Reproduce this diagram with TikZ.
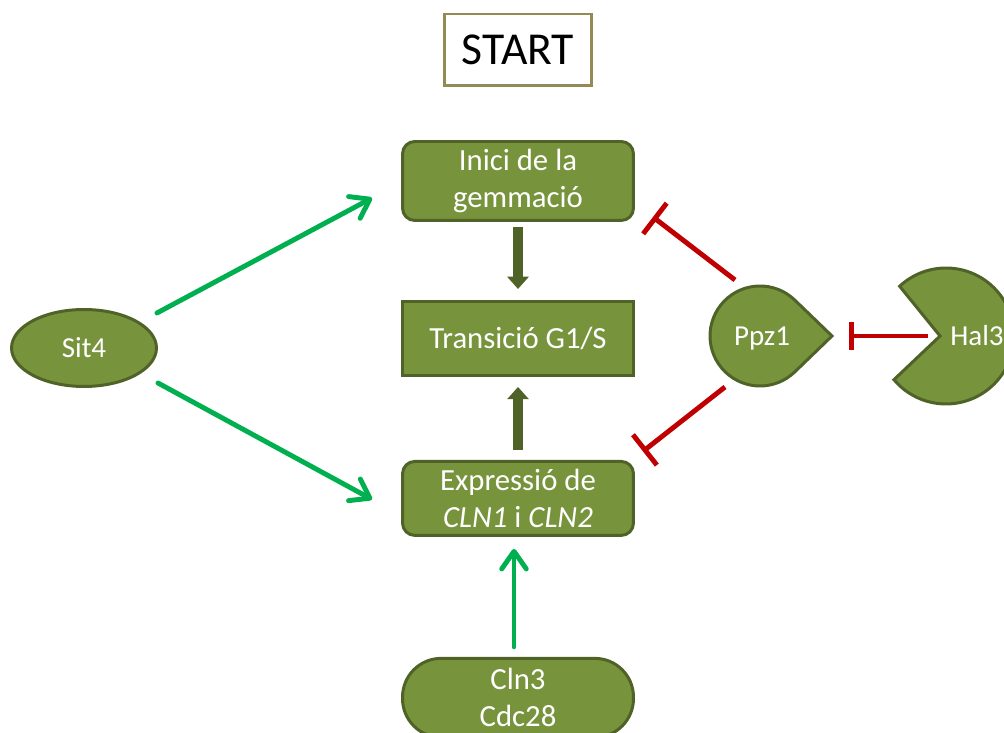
\documentclass[tikz,border=0pt]{standalone}
\usepackage{fontspec}
\setmainfont{Carlito}
\usepackage{xcolor}
\definecolor{cLeaf}{HTML}{77933C}
\definecolor{cDark}{HTML}{4F6228}
\definecolor{cGo}{HTML}{00B050}
\definecolor{cStop}{HTML}{C00000}
\definecolor{cFrame}{HTML}{948A54}
\usepackage{tikz}
\usetikzlibrary{positioning,arrows.meta,calc,shapes.geometric}
\tikzset{
  node-box/.style={draw=cDark,line width=1.7pt,fill=cLeaf,text=white,
    minimum width=4.62cm,minimum height=1.48cm,align=center,
    font=\fontsize{17.5}{21}\selectfont},
  node-round/.style={rounded corners=7pt},
  node-pill/.style={rounded corners=22pt,minimum height=1.58cm},
  node-oval/.style={draw=cDark,line width=1.7pt,fill=cLeaf,text=white,ellipse,
    minimum width=2.9cm,minimum height=1.54cm,font=\fontsize{16.5}{20}\selectfont},
  node-label/.style={text=white,font=\fontsize{16.5}{20}\selectfont},
  node-title/.style={draw=cFrame,line width=1.7pt,fill=white,
    minimum width=2.96cm,minimum height=1.44cm,font=\fontsize{26}{31}\selectfont},
  shape-fill/.style={draw=cDark,line width=1.7pt,fill=cLeaf},
  % activacio (verd), pas principal (oliva), inhibicio (vermell)
  arrow-act/.style={-{Straight Barb[length=10pt,width=14pt,round]},line width=2.8pt,
    draw=cGo,line cap=round},
  arrow-main/.style={-{Triangle[length=7pt,width=12pt]},line width=5.5pt,draw=cDark},
  arrow-inhib/.style={-{Bar[width=#1]},line width=2.8pt,draw=cStop},
}
\begin{document}
\begin{tikzpicture}[x=0.02cm,y=0.02cm]
  \clip (0,0) rectangle (1004,733);
  \coordinate (ppzc) at (760,397);
  \coordinate (halc) at (946,397);
  % formes de Ppz1 i Hal3
  \draw[shape-fill] ($(ppzc)+(72,0)$) -- ($(ppzc)+(46:50)$)
    arc[start angle=46,end angle=314,radius=50] -- cycle;
  \draw[shape-fill] ($(halc)+(-6,0)$) -- ($(halc)+(133:68)$)
    arc[start angle=133,end angle=-140,radius=68] -- cycle;

  \node[node-title] (start) at (518,683) {START};
  \node[node-box,node-round,minimum height=1.58cm] (inici) at (518,552) {Inici de la\\gemmació};
  \node[node-box,below=1.56cm of inici] (trans) {Transició G1/S};
  \node[node-box,node-round,below=1.66cm of trans] (expr) {Expressió de\\\textit{CLN1} i \textit{CLN2}};
  \node[node-box,node-pill,below=2.40cm of expr] (cln) {Cln3\\Cdc28};
  \node[node-oval] (sit) at (84,385) {Sit4};
  \node[node-label] (ppz) at ([shift={(2,-3)}]ppzc) {Ppz1};
  \node[node-label] (hal) at (977,397) {Hal3};

  \draw[arrow-act] ([shift={(-1,35)}]sit.east) -- ([shift={(-29,-17)}]inici.west);
  \draw[arrow-act] ([shift={(0,-35)}]sit.east) -- ([shift={(-29,-1)}]expr.west);
  \draw[arrow-act] ([shift={(-4,10)}]cln.north) -- ([shift={(-4,-12)}]expr.south);
  \draw[arrow-main] ([shift={(0,-5)}]inici.south) -- ([shift={(0,11)}]trans.north);
  \draw[arrow-main] ([shift={(0,10)}]expr.north) -- ([shift={(0,-10)}]trans.south);
  \draw[arrow-inhib=22pt] ([shift={(-25,56)}]ppzc) -- ([shift={(18,-36)}]inici.east);
  \draw[arrow-inhib=22pt] ([shift={(-35,-51)}]ppzc) -- ([shift={(8,47)}]expr.east);
  \draw[arrow-inhib=16pt] ([shift={(-18,0)}]halc) -- ([shift={(89,0)}]ppzc);
\end{tikzpicture}
\end{document}
